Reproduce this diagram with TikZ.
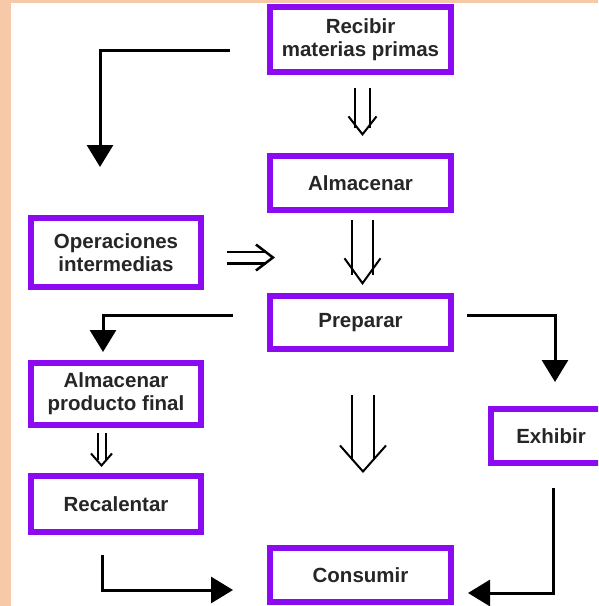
\documentclass[tikz,border=0pt]{standalone}
\usepackage{fontspec}
\setmainfont{Liberation Sans}
\usetikzlibrary{arrows.meta}
\definecolor{peach}{RGB}{248,201,168}
\definecolor{violeta}{RGB}{140,10,240}

\begin{document}
\begin{tikzpicture}[x=1pt,y=-1pt]
\tikzstyle{block} = [rectangle, draw=violeta, line width=6pt, fill=white,
text=black!85, font=\fontsize{20.5}{23}\selectfont\bfseries, align=center,
inner sep=0pt, minimum width=170pt]
\tikzstyle{block_mid} = [block, minimum width=181pt]
\tikzstyle{line} = [draw, line width=3pt, -{Triangle[length=22pt,width=26pt]}];
\tikzstyle{hollow} = [draw, double, line width=2pt];
\tikzstyle{vhead} = [draw=white, line width=0pt];

\fill[peach] (0,0) rectangle (598,606);
\fill[white] (11,3) rectangle (598,606);
\clip (0,0) rectangle (598,606);

% middle column
\node [block_mid, minimum height=65pt] (recibir) at (360.5,39.5) {Recibir\\materias primas};
\node [block_mid, minimum height=54pt] (almacenar) at (360.5,183) {Almacenar};
\node [block_mid, minimum height=53pt] (preparar) at (360.5,322.5) {Preparar};
\node [block_mid, minimum height=54pt] (consumir) at (360.5,575) {Consumir};
% left column
\node [block, minimum height=69pt] (operaciones) at (116,252.5) {Operaciones\\intermedias};
\node [block, minimum height=62pt] (almproducto) at (116,394) {Almacenar\\producto final};
\node [block, minimum height=56pt] (recalentar) at (116,504) {Recalentar};
% right
\node [block, minimum width=120pt, minimum height=54pt] (exhibir) at (551,436) {Exhibir};

% solid arrows
\path[line] ([xshift=-37pt,yshift=-10.5pt]recibir.west) -| ([xshift=-16pt,yshift=48pt]operaciones.north);
\path[line] ([xshift=-34pt,yshift=7.5pt]preparar.west) -| ([xshift=-13pt,yshift=8pt]almproducto.north);
\path[line] ([xshift=13pt,yshift=7.5pt]preparar.east) -| ([xshift=4pt,yshift=24pt]exhibir.north);
\path[line] ([xshift=-14pt,yshift=-20pt]recalentar.south) |- ([xshift=-34pt,yshift=-15pt]consumir.west);
\path[line] ([xshift=2pt,yshift=-22pt]exhibir.south) |- ([xshift=14pt,yshift=-18pt]consumir.east);

% hollow arrows: double shaft, then the open head
\path[hollow, double distance=13pt, shorten <=13pt, shorten >=25pt]
  ([xshift=2pt]recibir.south) -- ([xshift=2pt]almacenar.north);
\path[vhead, shorten <=13pt, shorten >=17pt,
  -{Straight Barb[length=18pt,width=28pt,line width=2pt,color=black]}]
  ([xshift=2pt]recibir.south) -- ([xshift=2pt]almacenar.north);

\path[hollow, double distance=19pt, shorten <=7pt, shorten >=18pt]
  ([xshift=2pt]almacenar.south) -- ([xshift=2pt]preparar.north);
\path[vhead, shorten <=7pt, shorten >=8pt,
  -{Straight Barb[length=25pt,width=36pt,line width=2pt,color=black]}]
  ([xshift=2pt]almacenar.south) -- ([xshift=2pt]preparar.north);

\path[hollow, double distance=20pt, shorten <=43pt, shorten >=85pt]
  ([xshift=2.5pt]preparar.south) -- ([xshift=2.5pt]consumir.north);
\path[vhead, shorten <=43pt, shorten >=72pt,
  -{Straight Barb[length=26pt,width=46pt,line width=2pt,color=black]}]
  ([xshift=2.5pt]preparar.south) -- ([xshift=2.5pt]consumir.north);

\path[hollow, double distance=6pt, shorten <=5pt, shorten >=13pt]
  ([xshift=-14.5pt]almproducto.south) -- ([xshift=-14.5pt]recalentar.north);
\path[vhead, shorten <=5pt, shorten >=6pt,
  -{Straight Barb[length=12pt,width=21pt,line width=2pt,color=black]}]
  ([xshift=-14.5pt]almproducto.south) -- ([xshift=-14.5pt]recalentar.north);

\path[hollow, line width=2.5pt, double distance=9pt, shorten >=9pt]
  ([xshift=23pt,yshift=-5pt]operaciones.east) -- ++(48,0);
\path[vhead, -{Straight Barb[length=17pt,width=26pt,line width=2.5pt,color=black]}]
  ([xshift=23pt,yshift=-5pt]operaciones.east) -- ++(48,0);

\end{tikzpicture}
\end{document}
